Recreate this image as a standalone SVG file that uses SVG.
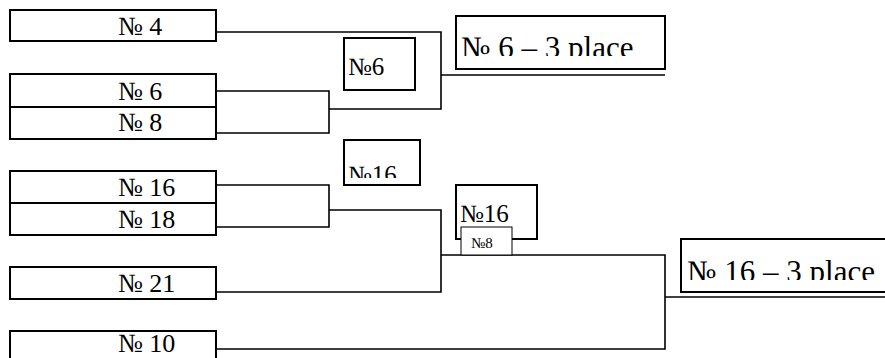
<svg xmlns="http://www.w3.org/2000/svg" width="885" height="358" viewBox="0 0 885 358">
<style>
.box{fill:#fff;stroke:#000;stroke-width:2}
.ln{fill:none;stroke:#000;stroke-width:1.6}
.tx{font-family:"Liberation Serif",Tinos,"Times New Roman",serif;fill:#000}
.t{font-size:26px}
.s{font-size:25px}
.b{font-size:31px}
.xs{font-size:15px}
</style>
<defs>
<clipPath id="c1"><rect x="456" y="16" width="209" height="40"/></clipPath>
<clipPath id="c2"><rect x="681" y="239" width="210" height="41"/></clipPath>
<clipPath id="c3"><rect x="344" y="140" width="76" height="38"/></clipPath>
</defs>
<rect width="885" height="358" fill="#fff"/>
<g id="connectors">
<path class="ln" d="M216,32 H441 V109 H329"/>
<path class="ln" d="M216,91 H329 V133 H216"/>
<path class="ln" d="M441,75 H665"/>
<path class="ln" d="M216,185 H329 V227 H216"/>
<path class="ln" d="M329,210 H441 V292 H216"/>
<path class="ln" d="M441,255 H665 V349 H216"/>
<path class="ln" d="M665,297 H885"/>
</g>
<g id="n4"><rect class="box" x="10" y="10" width="206" height="31"/><text class="tx t" x="118" y="35">№ 4</text></g>
<g id="n6"><rect class="box" x="10" y="74" width="206" height="33"/><text class="tx t" x="118" y="100">№ 6</text></g>
<g id="n8"><rect class="box" x="10" y="107" width="206" height="32"/><text class="tx t" x="118" y="131">№ 8</text></g>
<g id="n16"><rect class="box" x="10" y="171" width="206" height="32"/><text class="tx t" x="118" y="196">№ 16</text></g>
<g id="n18"><rect class="box" x="10" y="203" width="206" height="32"/><text class="tx t" x="118" y="228">№ 18</text></g>
<g id="n21"><rect class="box" x="10" y="267" width="206" height="32"/><text class="tx t" x="118" y="292">№ 21</text></g>
<g id="n10"><rect class="box" x="10" y="331" width="206" height="40"/><text class="tx t" x="118" y="352">№ 10</text></g>
<g id="w6"><rect class="box" x="344" y="38" width="71" height="52"/><text class="tx s" x="348" y="75">№6</text></g>
<g id="w16a"><rect class="box" x="344" y="140" width="76" height="45"/><text class="tx s" x="348" y="183" clip-path="url(#c3)">№16</text></g>
<g id="w16b"><rect class="box" x="456" y="185" width="81" height="54"/><text class="tx s" x="460" y="222">№16</text></g>
<g id="w8"><rect class="box" x="461" y="227" width="51" height="28" style="stroke-width:1"/><text class="tx xs" x="471" y="248">№8</text></g>
<g id="p6"><rect class="box" x="456" y="16" width="209" height="53"/><text class="tx b" x="461" y="58" clip-path="url(#c1)">№ 6 – 3 place</text></g>
<g id="p16"><rect class="box" x="681" y="239" width="210" height="53"/><text class="tx b" x="687" y="282" clip-path="url(#c2)">№ 16 – 3 place</text></g>
</svg>
